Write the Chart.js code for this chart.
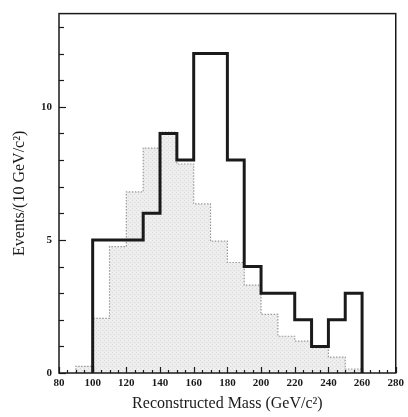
<!DOCTYPE html>
<html>
<head>
<meta charset="utf-8">
<script src="https://cdn.jsdelivr.net/npm/chart.js@4"></script>
<style>
  html, body { margin: 0; padding: 0; background: #fff; }
  canvas { display: block; }
</style>
</head>
<body>
<canvas id="massChart" width="408" height="417"></canvas>
<script>
// histogram data, bins of 10 GeV/c2 (left edge of each bin)
const dataBinStart = [100, 110, 120, 130, 140, 150, 160, 170, 180, 190, 200, 210, 220, 230, 240, 250];
const dataCounts   = [5, 5, 5, 6, 9, 8, 12, 12, 8, 4, 3, 3, 2, 1, 2, 3];

const mcBinStart = [90, 100, 110, 120, 130, 140, 150, 160, 170, 180, 190, 200, 210, 220, 230, 240, 250];
const mcCounts   = [0.25, 2.05, 4.75, 6.8, 8.45, 9.05, 7.85, 6.35, 4.95, 4.15, 3.3, 2.2, 1.38, 1.2, 0.95, 0.6, 0.15];

const binWidth = 10;
const xTickLabels = [80, 100, 120, 140, 160, 180, 200, 220, 240, 260, 280];
const yTickLabels = [0, 5, 10];

// turn bins into step points (horizontal first, then vertical)
function histPoints(starts, counts) {
    const pts = [{ x: starts[0], y: 0 }];
    starts.forEach((s, i) => pts.push({ x: s, y: counts[i] }));
    pts.push({ x: starts[starts.length - 1] + binWidth, y: 0 });
    return pts;
}

// stippled grey fill like the scanned plot
function stipple() {
    const c = document.createElement('canvas');
    c.width = 4; c.height = 4;
    const g = c.getContext('2d');
    g.fillStyle = '#ededed';
    g.fillRect(0, 0, 4, 4);
    g.fillStyle = '#d9d9d9';
    g.fillRect(0, 0, 1, 1);
    g.fillRect(2, 2, 1, 1);
    g.fillStyle = '#f7f7f7';
    g.fillRect(2, 0, 1, 1);
    return g.createPattern(c, 'repeat');
}

const serif = "'Liberation Serif', 'DejaVu Serif', serif";

// inward tick marks + frame
const frameTicks = {
    id: 'frameTicks',
    afterDatasetsDraw(chart) {
        const { ctx, chartArea: a, scales: { x, y } } = chart;
        ctx.save();
        ctx.strokeStyle = '#1a1a1a';
        ctx.lineWidth = 1.2;
        for (let v = 80; v <= 280; v += 5) {
            const px = Math.round(x.getPixelForValue(v)) + 0.5;
            const len = v % 20 === 0 ? 6 : 3;
            ctx.beginPath();
            ctx.moveTo(px, a.bottom);
            ctx.lineTo(px, a.bottom - len);
            ctx.stroke();
        }
        for (let v = 0; v <= 13; v++) {
            const py = Math.round(y.getPixelForValue(v)) + 0.5;
            const len = v % 5 === 0 ? 7 : 5;
            ctx.beginPath();
            ctx.moveTo(a.left, py);
            ctx.lineTo(a.left + len, py);
            ctx.stroke();
        }
        ctx.lineWidth = 1.5;
        ctx.strokeRect(a.left, a.top, a.right - a.left, a.bottom - a.top);
        ctx.restore();
    }
};

const ctx = document.getElementById('massChart').getContext('2d');
const massChart = new Chart(ctx, {
    type: 'line',
    data: {
        datasets: [
            {
                label: 'Data',
                data: histPoints(dataBinStart, dataCounts),
                stepped: 'before',
                borderColor: '#1a1a1a',
                borderWidth: 3,
                pointRadius: 0,
                fill: false,
                borderJoinStyle: 'miter',
                borderCapStyle: 'butt'
            },
            {
                label: 'Simulation',
                data: histPoints(mcBinStart, mcCounts),
                stepped: 'before',
                borderColor: '#9a9a9a',
                borderWidth: 1.2,
                borderDash: [1.5, 1.5],
                backgroundColor: stipple(),
                fill: 'origin',
                pointRadius: 0
            }
        ]
    },
    options: {
        responsive: false,
        animation: false,
        layout: { padding: { top: 4, right: 8, left: 0, bottom: 0 } },
        plugins: {
            legend: { display: false },
            tooltip: { enabled: false }
        },
        scales: {
            x: {
                type: 'linear',
                min: 80,
                max: 280,
                afterBuildTicks: (s) => { s.ticks = xTickLabels.map(v => ({ value: v })); },
                afterFit: (s) => { s.height = 44; },
                grid: { display: false, drawTicks: false },
                border: { display: false },
                ticks: {
                    color: '#1a1a1a',
                    padding: 4,
                    maxRotation: 0,
                    font: { family: serif, size: 11, weight: 'bold' }
                },
                title: {
                    display: true,
                    text: 'Reconstructed Mass (GeV/c²)',
                    color: '#1a1a1a',
                    padding: { top: 0, bottom: 4 },
                    font: { family: serif, size: 16 }
                }
            },
            y: {
                min: 0,
                max: 13.5,
                afterBuildTicks: (s) => { s.ticks = yTickLabels.map(v => ({ value: v })); },
                afterFit: (s) => { s.width = 59; },
                grid: { display: false, drawTicks: false },
                border: { display: false },
                ticks: {
                    color: '#1a1a1a',
                    padding: 7,
                    font: { family: serif, size: 11, weight: 'bold' }
                },
                title: {
                    display: true,
                    text: 'Events/(10 GeV/c²)',
                    color: '#1a1a1a',
                    padding: { top: 10, bottom: 0 },
                    font: { family: serif, size: 16 }
                }
            }
        }
    },
    plugins: [frameTicks]
});
</script>
</body>
</html>
